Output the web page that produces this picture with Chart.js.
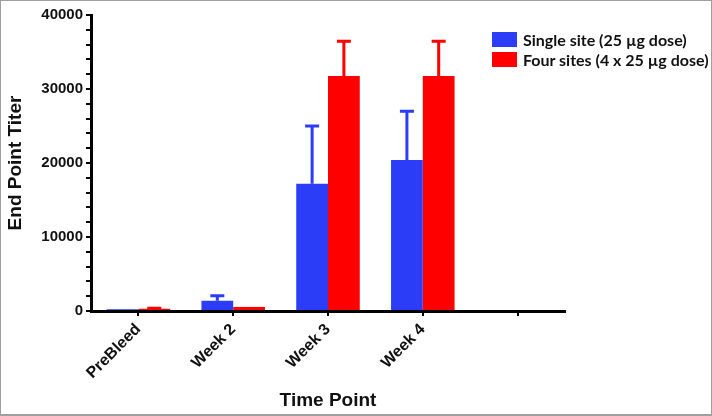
<!DOCTYPE html>
<html>
<head>
<meta charset="utf-8">
<script src="https://cdn.jsdelivr.net/npm/chart.js@4"></script>
<style>
    body { margin: 0; background: #fff; }
    #wrap { position: relative; width: 712px; height: 416px; }
    #frame {
        position: absolute; left: 0; top: 0; width: 712px; height: 416px;
        box-sizing: border-box; border: 1px solid #a0a0a0; border-bottom-width: 2px;
        pointer-events: none;
    }
    #legend {
        position: absolute; left: 492px; top: 29px;
        font-family: Lato, "Open Sans", sans-serif; font-weight: bold; font-size: 16px;
        color: #111;
    }
    .row { display: flex; align-items: center; height: 20px; }
    .box { width: 25px; height: 15px; margin-right: 6px; }
</style>
</head>
<body>
<div id="wrap">
    <canvas id="chart" width="712" height="416"></canvas>
    <div id="legend"></div>
    <div id="frame"></div>
</div>
<script>
// Data
const categories = ['PreBleed', 'Week 2', 'Week 3', 'Week 4', ''];
const seriesNames = ['Single site (25 \u00b5g dose)', 'Four sites (4 x 25 \u00b5g dose)'];
const singleSite = [250, 1400, 17200, 20400, null];
const singleSiteErr = [0, 650, 7800, 6600, null];
const fourSites = [300, 550, 31750, 31750, null];
const fourSitesErr = [80, 0, 4700, 4700, null];
const yTicks = [0, 10000, 20000, 30000, 40000];

const colors = ['#2b3df7', '#ff0000'];

// Legend
const legend = document.getElementById('legend');
seriesNames.forEach((name, i) => {
    const row = document.createElement('div');
    row.className = 'row';
    row.innerHTML = '<div class="box" style="background:' + colors[i] + '"></div><span>' + name + '</span>';
    legend.appendChild(row);
});

// Upper error bars with caps
const errorBars = {
    id: 'errorBars',
    afterDatasetsDraw(chart) {
        const ctx = chart.ctx;
        const y = chart.scales.y;
        chart.data.datasets.forEach((ds, di) => {
            const meta = chart.getDatasetMeta(di);
            meta.data.forEach((bar, i) => {
                const v = ds.data[i];
                const e = ds.errors[i];
                if (v == null || !e) return;
                const top = y.getPixelForValue(v + e);
                ctx.save();
                ctx.strokeStyle = ds.backgroundColor;
                ctx.lineWidth = 3;
                ctx.beginPath();
                ctx.moveTo(bar.x, bar.y);
                ctx.lineTo(bar.x, top);
                ctx.moveTo(bar.x - 7, top);
                ctx.lineTo(bar.x + 7, top);
                ctx.stroke();
                ctx.restore();
            });
        });
    }
};

const yTickFont = { family: '"Liberation Sans", Arial, sans-serif', size: 15, weight: 'bold' };
const xTickFont = { family: '"Liberation Sans", Arial, sans-serif', size: 16, weight: 'bold' };
const titleFont = { family: '"Liberation Sans", Arial, sans-serif', size: 19, weight: 'bold' };

new Chart(document.getElementById('chart').getContext('2d'), {
    type: 'bar',
    data: {
        labels: categories,
        datasets: [
            { label: seriesNames[0], data: singleSite, errors: singleSiteErr, backgroundColor: colors[0] },
            { label: seriesNames[1], data: fourSites, errors: fourSitesErr, backgroundColor: colors[1] }
        ]
    },
    plugins: [errorBars],
    options: {
        responsive: false,
        animation: false,
        categoryPercentage: 0.67,
        barPercentage: 1.0,
        layout: { padding: { top: 15, right: 147, left: 0, bottom: 0 } },
        plugins: {
            legend: { display: false },
            tooltip: { enabled: false }
        },
        scales: {
            x: {
                afterFit: s => { s.height = 105; },
                grid: { display: true, drawOnChartArea: false, drawTicks: true, offset: false, tickLength: 5, color: '#000', lineWidth: 2 },
                border: { display: true, color: '#000', width: 3 },
                ticks: { color: '#111', font: xTickFont, minRotation: 45, maxRotation: 45, padding: 4, autoSkip: false },
                title: { display: true, text: 'Time Point', color: '#111', font: titleFont, padding: { top: 0, bottom: 4 } }
            },
            y: {
                min: 0,
                max: 40000,
                afterFit: s => { s.width = 91; },
                afterBuildTicks: s => {
                    // major labels at yTicks, minor marks every 2000
                    const t = [];
                    for (let v = 0; v <= 40000; v += 2000) t.push({ value: v });
                    s.ticks = t;
                },
                grid: { display: true, drawOnChartArea: false, drawTicks: true, tickLength: 5, color: '#000', lineWidth: 2 },
                border: { display: true, color: '#000', width: 3 },
                ticks: {
                    color: '#111', font: yTickFont, padding: 3, autoSkip: false,
                    callback: v => yTicks.includes(v) ? String(v) : ''
                },
                title: { display: true, text: 'End Point Titer', color: '#111', font: titleFont, padding: { top: 4, bottom: 0 } }
            }
        }
    }
});
</script>
</body>
</html>
